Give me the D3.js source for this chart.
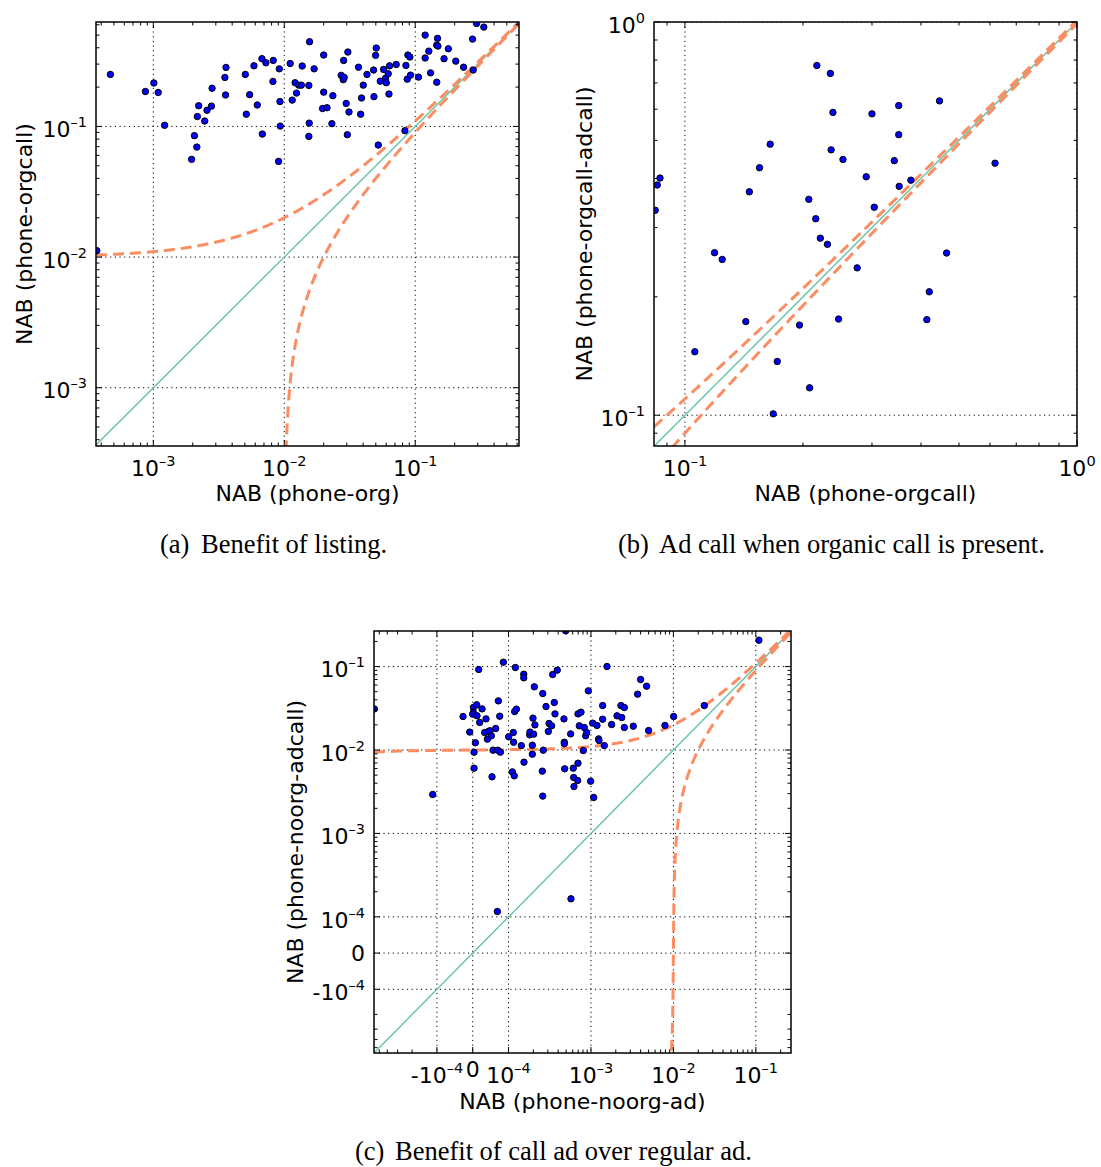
<!DOCTYPE html>
<html>
<head>
<meta charset="utf-8">
<script src="https://cdn.jsdelivr.net/npm/d3@7"></script>
<style>
  body { margin: 0; background: #fff; }
  svg text { font-family: "DejaVu Sans", sans-serif; fill: #000; }
  svg text.cap { font-family: "Liberation Serif", "Times New Roman", serif; }
</style>
</head>
<body>
<svg id="fig" width="1101" height="1167"></svg>
<script>
// (a) phone-org vs phone-orgcall
var listingX = [4.7e-4, 8.7e-4, 1.01e-3, 1.09e-3, 1.22e-3, 1.96e-3, 2.06e-3, 2.15e-3, 2.17e-3, 2.22e-3,
  2.47e-3, 2.57e-3, 2.78e-3, 2.81e-3, 3.52e-3, 3.56e-3, 3.59e-3, 5.04e-3, 5.13e-3, 5.44e-3,
  5.87e-3, 6.22e-3, 6.75e-3, 6.8e-3, 7.24e-3, 8.19e-3, 8.24e-3, 9.05e-3, 9.16e-3, 9.27e-3,
  9.32e-3, 0.0111, 0.0115, 0.0121, 0.0124, 0.0129, 0.0135, 0.0137, 0.0154, 0.0154,
  0.0155, 0.0156, 0.0169, 0.0196, 0.0200, 0.0200, 0.0212, 0.0231, 0.0235, 0.0272,
  0.0282, 0.0284, 0.0287, 0.0297, 0.0303, 0.0306, 0.0312, 0.0369, 0.0383, 0.0389,
  0.0401, 0.0428, 0.0481, 0.0484, 0.0498, 0.0504, 0.0522, 0.0541, 0.0573, 0.0594,
  0.0601, 0.0622, 0.0630, 0.0637, 0.0716, 0.0834, 0.0849, 0.0869, 0.0879, 0.0910,
  0.0921, 0.106, 0.119, 0.119, 0.127, 0.131, 0.146, 0.146, 0.148, 0.149,
  0.166, 0.179, 0.204, 0.234, 0.274, 0.277, 0.294, 0.334, 3.7e-4];
var listingY = [0.25, 0.185, 0.215, 0.182, 0.102, 0.056, 0.085, 0.0695, 0.119, 0.144,
  0.11, 0.133, 0.143, 0.196, 0.237, 0.174, 0.283, 0.25, 0.124, 0.175,
  0.291, 0.146, 0.33, 0.0874, 0.307, 0.221, 0.32, 0.054, 0.276, 0.155,
  0.1006, 0.303, 0.159, 0.216, 0.18, 0.207, 0.207, 0.29, 0.206, 0.0839,
  0.106, 0.445, 0.276, 0.137, 0.352, 0.183, 0.139, 0.105, 0.172, 0.246,
  0.228, 0.32, 0.237, 0.15, 0.0864, 0.371, 0.129, 0.284, 0.124, 0.165,
  0.207, 0.25, 0.27, 0.169, 0.35, 0.398, 0.072, 0.222, 0.273, 0.234,
  0.216, 0.253, 0.177, 0.291, 0.298, 0.0927, 0.293, 0.23, 0.352, 0.34,
  0.247, 0.2385, 0.334, 0.5, 0.377, 0.257, 0.218, 0.419, 0.472, 0.412,
  0.33, 0.393, 0.316, 0.284, 0.466, 0.27, 0.614, 0.576, 0.0112];

// (b) phone-orgcall vs phone-orgcall-adcall
var orgcallX = [0.217, 0.235, 0.446, 0.351, 0.2385, 0.30, 0.351, 0.165, 0.236, 0.253,
  0.342, 0.618, 0.155, 0.29, 0.0864, 0.377, 0.085, 0.352, 0.146, 0.207,
  0.084, 0.304, 0.2156, 0.2215, 0.231, 0.119, 0.1245, 0.465,
  0.275, 0.42, 0.143, 0.2466, 0.196, 0.414, 0.106, 0.172, 0.208, 0.168];
var orgcallY = [0.775, 0.74, 0.63, 0.613, 0.589, 0.584, 0.517, 0.489, 0.473, 0.447,
  0.444, 0.4375, 0.426, 0.404, 0.401, 0.396, 0.385, 0.382, 0.370, 0.354,
  0.332, 0.338, 0.316, 0.282, 0.272, 0.259, 0.249, 0.2585,
  0.237, 0.206, 0.173, 0.1756, 0.1695, 0.175, 0.145, 0.137, 0.1174, 0.1008];

// (c) phone-noorg-ad vs phone-noorg-adcall
var noorgX = [-5.74e-4, -1.125e-4, -2.71e-5, -8.5e-6, 1.8e-6, 1.8e-6, 0, 3.6e-6, 3.6e-6, 7.4e-6,
  1.1e-5, 1.2e-5, 1.67e-5, 1.95e-5, 2.6e-5, 3.34e-5, 3.71e-5, 4.09e-5, 4.37e-5, 4.83e-5,
  5.2e-5, 5.39e-5, 5.67e-5, 6.41e-5, 6.97e-5, 7.16e-5, 7.53e-5, 7.72e-5, 8.56e-5, 1.004e-4,
  1.112e-4, 1.143e-4, 1.153e-4, 1.174e-4, 1.187e-4, 1.21e-4, 1.245e-4, 1.43e-4, 1.53e-4, 1.53e-4,
  1.54e-4, 1.805e-4, 1.82e-4, 1.944e-4, 1.944e-4, 1.98e-4, 2.02e-4, 2.056e-4, 2.09e-4, 2.57e-4,
  2.6e-4, 2.6e-4, 2.64e-4, 2.85e-4, 3.04e-4, 3.1e-4, 3.33e-4, 3.43e-4, 3.59e-4, 3.66e-4,
  3.9e-4, 4.7e-4, 4.75e-4, 4.75e-4, 4.8e-4, 4.93e-4, 5.67e-4, 6.1e-4, 6.17e-4, 6.22e-4,
  6.9e-4, 6.96e-4, 6.96e-4, 7.22e-4, 7.57e-4, 8.07e-4, 8.3e-4, 8.62e-4, 8.87e-4, 9.29e-4,
  9.91e-4, 1.048e-3, 1.078e-3, 1.183e-3, 1.239e-3, 1.25e-3, 1.386e-3, 1.386e-3, 1.452e-3, 1.564e-3,
  1.78e-3, 2.07e-3, 2.31e-3, 2.36e-3, 2.54e-3, 2.54e-3, 3.26e-3, 3.68e-3, 4.0e-3, 4.73e-3,
  5.0e-3, 7.9e-3, 0.01007, 0.0237, 0.109, 6.88e-5, 5.72e-4];
var noorgY = [0.0311, 2.93e-3, 0.0252, 0.0164, 0.0323, 0.0282, 0.0269, 9.42e-3, 6.06e-3, 0.0122,
  0.0348, 0.0257, 0.0922, 0.0214, 0.0311, 0.0162, 0.0236, 0.0135, 0.0167, 0.0170,
  0.0148, 4.77e-3, 9.95e-3, 0.0181, 9.95e-3, 0.0388, 0.0254, 9.42e-3, 0.1129, 0.0144,
  5.47e-3, 0.0162, 0.0124, 4.9e-3, 0.0289, 0.0974, 0.0309, 0.0113, 0.081, 0.0733,
  7.15e-3, 0.0152, 0.0164, 0.0114, 8.91e-3, 0.0241, 0.0155, 0.0572, 0.0200, 5.58e-3,
  2.8e-3, 0.0475, 9.95e-3, 0.0332, 0.0167, 0.0208, 0.0195, 0.0803, 0.0371, 0.0271,
  0.0906, 0.0236, 0.0124, 0.0119, 5.95e-3, 0.268, 0.0156, 6.06e-3, 4.68e-3, 3.65e-3,
  4.31e-3, 6.95e-3, 0.0271, 0.0195, 0.0284, 9.86e-3, 0.0186, 0.0148, 0.0162, 0.0512,
  4.23e-3, 0.021, 2.7e-3, 0.0197, 0.0136, 0.013, 0.0341, 0.0234, 0.0113, 0.1002,
  0.0202, 0.0257, 0.0341, 0.0245, 0.0323, 0.0186, 0.0193, 0.0467, 0.070, 0.0582,
  0.0171, 0.0197, 0.0252, 0.0341, 0.2072, 1.16e-4, 1.646e-4];

// tick values
var logTicksA = [1e-3, 1e-2, 1e-1];
var logTicksB = [1e-1, 1];
var symTicksC = [-1e-4, 0, 1e-4, 1e-3, 1e-2, 1e-1];

// reference lines: y = x and y = x +/- offset
var offset = 0.01;

// symmetric log transform, linear inside +/- linthresh
var linthresh = 1e-4, linscale = 1 / Math.LN10;
function symT(v) {
  var a = Math.abs(v);
  return a <= linthresh ? v / linthresh * linscale : Math.sign(v) * (linscale + Math.log10(a / linthresh));
}
function symInv(t) {
  var a = Math.abs(t);
  return a <= linscale ? t / linscale * linthresh : Math.sign(t) * linthresh * Math.pow(10, a - linscale);
}
function symScale(domain, range) {
  var lin = d3.scaleLinear().domain(domain.map(symT)).range(range);
  return function(v) { return lin(symT(v)); };
}

function makeScale(kind, domain, range) {
  return kind === "log" ? d3.scaleLog().domain(domain).range(range) : symScale(domain, range);
}
function sample(kind, lo, hi, n) {
  if (kind === "log") return d3.range(n + 1).map(function(i) { return lo * Math.pow(hi / lo, i / n); });
  var a = symT(lo), b = symT(hi);
  return d3.range(n + 1).map(function(i) { return symInv(a + (b - a) * i / n); });
}
function minorTicks(kind, dom) {
  var out = [];
  for (var e = -6; e <= 1; e++) {
    for (var k = 2; k <= 9; k++) {
      var v = k * Math.pow(10, e);
      if (kind === "sym" && v < 1.5e-4) continue;
      out.push(v);
      if (kind === "sym") out.push(-v);
    }
  }
  return out.filter(function(v) { return v > dom[0] && v < dom[1]; });
}

var svg = d3.select("#fig");

var panels = [
  { id: "a", kind: "log", box: [96, 22, 519, 446], xDom: [3.65e-4, 0.62], yDom: [3.58e-4, 0.63],
    xs: listingX, ys: listingY, ticks: logTicksA,
    xlabel: "NAB (phone-org)", ylabel: "NAB (phone-orgcall)", ylabX: 32, xlabY: 501,
    cap: ["(a)", "Benefit of listing."], capX: [160, 201], capY: 553 },
  { id: "b", kind: "log", box: [654, 22, 1077, 446], xDom: [0.0834, 1], yDom: [0.0835, 1],
    xs: orgcallX, ys: orgcallY, ticks: logTicksB,
    xlabel: "NAB (phone-orgcall)", ylabel: "NAB (phone-orgcall-adcall)", ylabX: 592, xlabY: 501,
    cap: ["(b)", "Ad call when organic call is present."], capX: [618, 659], capY: 553 },
  { id: "c", kind: "sym", box: [374, 631, 791, 1053], xDom: [-5.8e-4, 0.267], yDom: [-5.8e-4, 0.267],
    xs: noorgX, ys: noorgY, ticks: symTicksC,
    xlabel: "NAB (phone-noorg-ad)", ylabel: "NAB (phone-noorg-adcall)", ylabX: 303, xlabY: 1109,
    cap: ["(c)", "Benefit of call ad over regular ad."], capX: [355, 395], capY: 1160 }
];

function tickLabel(g, v, x, y, anchor) {
  var t = g.append("text").attr("x", x).attr("y", y).attr("text-anchor", anchor).attr("font-size", 22);
  if (v === 0) { t.text("0"); return; }
  var e = Math.round(Math.log10(Math.abs(v)));
  t.append("tspan").text((v < 0 ? "-" : "") + "10");
  t.append("tspan").attr("font-size", 14.5).attr("dy", -10).text(e < 0 ? "\u2013" + (-e) : String(e));
}

panels.forEach(function(p) {
  var x0 = p.box[0], y0 = p.box[1], x1 = p.box[2], y1 = p.box[3];
  var x = makeScale(p.kind, p.xDom, [x0, x1]);
  var y = makeScale(p.kind, p.yDom, [y1, y0]);
  var g = svg.append("g");

  g.append("clipPath").attr("id", "clip-" + p.id)
    .append("rect").attr("x", x0).attr("y", y0).attr("width", x1 - x0).attr("height", y1 - y0);
  var plot = g.append("g").attr("clip-path", "url(#clip-" + p.id + ")");

  // dotted grid
  var xt = p.ticks.filter(function(v) { return v >= p.xDom[0] && v <= p.xDom[1]; });
  var yt = p.ticks.filter(function(v) { return v >= p.yDom[0] && v <= p.yDom[1]; });
  plot.selectAll(".gx").data(xt).enter().append("line")
    .attr("x1", x).attr("x2", x).attr("y1", y0).attr("y2", y1)
    .attr("stroke", "#000").attr("stroke-width", 1).attr("stroke-dasharray", "1.2,3.5");
  plot.selectAll(".gy").data(yt).enter().append("line")
    .attr("y1", y).attr("y2", y).attr("x1", x0).attr("x2", x1)
    .attr("stroke", "#000").attr("stroke-width", 1).attr("stroke-dasharray", "1.2,3.5");

  // y = x
  var lo = Math.min(p.xDom[0], p.yDom[0]), hi = Math.max(p.xDom[1], p.yDom[1]);
  plot.append("line")
    .attr("x1", x(lo)).attr("y1", y(lo)).attr("x2", x(hi)).attr("y2", y(hi))
    .attr("stroke", "#66c2a5").attr("stroke-width", 1.4);

  // y = x + offset (param by x), y = x - offset (param by y)
  var line = d3.line().x(function(d) { return x(d[0]); }).y(function(d) { return y(d[1]); });
  var upper = sample(p.kind, p.xDom[0], p.xDom[1], 400).map(function(v) { return [v, v + offset]; });
  var lowLo = p.kind === "log" ? p.yDom[0] / 2 : p.yDom[0] * 1.5;
  var lower = sample(p.kind, lowLo, p.yDom[1], 400).map(function(v) { return [v + offset, v]; });
  [upper, lower].forEach(function(pts) {
    plot.append("path").attr("d", line(pts)).attr("fill", "none")
      .attr("stroke", "#fc8d62").attr("stroke-width", 3).attr("stroke-dasharray", "11,6");
  });

  // scatter
  plot.selectAll("circle").data(p.xs).enter().append("circle")
    .attr("cx", function(d) { return x(d); })
    .attr("cy", function(d, i) { return y(p.ys[i]); })
    .attr("r", 3.2).attr("fill", "#0000ff").attr("stroke", "#000").attr("stroke-width", 1);

  // ticks, inward on all sides
  var mx = minorTicks(p.kind, p.xDom), my = minorTicks(p.kind, p.yDom);
  function xTicks(vals, len) {
    vals.forEach(function(v) {
      var px = x(v);
      g.append("line").attr("x1", px).attr("x2", px).attr("y1", y1).attr("y2", y1 - len).attr("stroke", "#000");
      g.append("line").attr("x1", px).attr("x2", px).attr("y1", y0).attr("y2", y0 + len).attr("stroke", "#000");
    });
  }
  function yTicks(vals, len) {
    vals.forEach(function(v) {
      var py = y(v);
      g.append("line").attr("y1", py).attr("y2", py).attr("x1", x0).attr("x2", x0 + len).attr("stroke", "#000");
      g.append("line").attr("y1", py).attr("y2", py).attr("x1", x1).attr("x2", x1 - len).attr("stroke", "#000");
    });
  }
  xTicks(xt, 6); yTicks(yt, 6); xTicks(mx, 3.5); yTicks(my, 3.5);

  g.append("rect").attr("x", x0).attr("y", y0).attr("width", x1 - x0).attr("height", y1 - y0)
    .attr("fill", "none").attr("stroke", "#000").attr("stroke-width", 1.5);

  // tick labels
  xt.forEach(function(v) { tickLabel(g, v, x(v), y1 + (v === 0 ? 23.5 : 29.5), "middle"); });
  yt.forEach(function(v) { tickLabel(g, v, x0 - 9, y(v) + (v === 0 ? 7.5 : 10.7), "end"); });

  // axis labels
  g.append("text").attr("x", (x0 + x1) / 2).attr("y", p.xlabY).attr("text-anchor", "middle")
    .attr("font-size", 22).text(p.xlabel);
  g.append("text").attr("transform", "translate(" + p.ylabX + "," + (y0 + y1) / 2 + ") rotate(-90)")
    .attr("text-anchor", "middle").attr("font-size", 22).text(p.ylabel);

  // caption
  var cap = g.append("text").attr("class", "cap").attr("y", p.capY).attr("font-size", 26.5);
  cap.append("tspan").attr("x", p.capX[0]).text(p.cap[0]);
  cap.append("tspan").attr("x", p.capX[1]).text(p.cap[1]);
});
</script>
</body>
</html>
